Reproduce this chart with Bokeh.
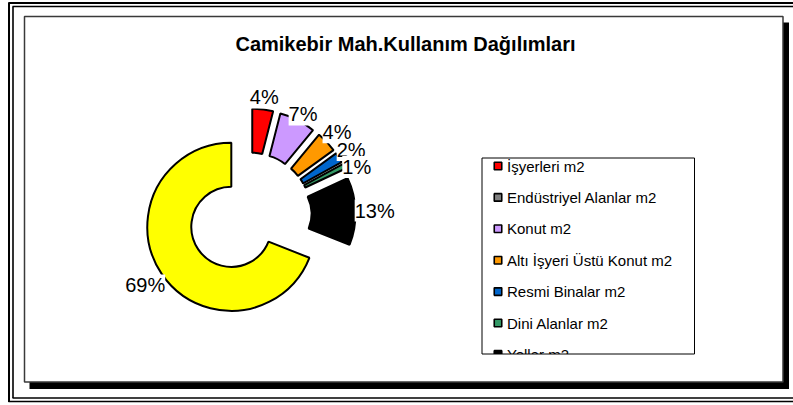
import math
from bokeh.plotting import figure
from bokeh.models import Range1d
from bokeh.embed import file_html
from bokeh.resources import INLINE
from bokeh.core.properties import value

# ---------------- data ----------------
title = "Camikebir Mah.Kullanım Dağılımları"
categories = ["İşyerleri m2", "Endüstriyel Alanlar m2", "Konut m2",
              "Altı İşyeri Üstü Konut m2", "Resmi Binalar m2",
              "Dini Alanlar m2", "Yollar m2", "Diğer m2"]
percents = [4, 0, 7, 4, 2, 1, 13, 69]
colors = ["#FF0000", "#808080", "#CC99FF", "#FF9900", "#0066CC",
          "#339966", "#000000", "#FFFF00"]

# ---------------- layout ----------------
W, H = 793, 405
FONT = value("Liberation Sans")


def Y(y):
    return H - y


p = figure(width=W, height=H, x_range=Range1d(0, W), y_range=Range1d(0, H),
           output_backend="svg", toolbar_location=None, min_border=0,
           x_axis_location=None, y_axis_location=None)
p.xgrid.visible = False
p.ygrid.visible = False
p.outline_line_color = None
p.background_fill_color = "white"
p.border_fill_color = "white"

# outer double frame
p.multi_line(xs=[[8.5, 8.5], [8, W]], ys=[[Y(2), Y(401.5)], [Y(2.5), Y(2.5)]],
             line_color="black", line_width=2)
p.multi_line(xs=[[12.5, 12.5], [12, W], [12, W], [8, W]],
             ys=[[Y(6), Y(397.5)], [Y(6), Y(6)], [Y(397.5), Y(397.5)], [Y(401), Y(401)]],
             line_color="black", line_width=1.6)

# chart area with shadow
p.quad(left=[782, 29], right=[788.5, 788.5], top=[Y(22), Y(381)],
       bottom=[Y(388.5), Y(388.5)], fill_color="black", line_color=None)
p.quad(left=24, right=782.5, top=Y(16), bottom=Y(381.5), fill_color="white",
       line_color="#3a3a3a", line_width=1.5)

# title
p.text(x=[405], y=[Y(43)], text=[title], text_font=FONT, text_font_size="20px",
       text_font_style="bold", text_align="center", text_baseline="middle",
       text_color="black")

# ---------------- pie ----------------
CX, CY = 249, 214          # screen coords of pie centre
R_OUT, R_IN = 84, 40
EXPLODE = 22
LABEL_D = 96               # label distance from (exploded) slice centre
LBL_PX = 20
CHAR_W = 0.7 * LBL_PX      # rough label half-size estimates
HALF_H = 8.5

total = float(sum(percents))
acc = 0.0
wx, wy, ws, we, wc = [], [], [], [], []
labels = []
for cat, v, c in zip(categories, percents, colors):
    a0 = acc / total * 2 * math.pi
    acc += v
    a1 = acc / total * 2 * math.pi
    if v <= 0:
        continue
    mid = (a0 + a1) / 2
    ux, uy = math.sin(mid), -math.cos(mid)       # screen direction
    ex, ey = CX + EXPLODE * ux, CY + EXPLODE * uy  # exploded centre (screen)
    wx.append(ex)
    wy.append(Y(ey))
    ws.append(math.pi / 2 - a1)
    we.append(math.pi / 2 - a0)
    wc.append(c)
    txt = f"{round(v / total * 100)}%"
    support = abs(ux) * CHAR_W * len(txt) / 2 + abs(uy) * HALF_H
    d = max(LABEL_D, R_OUT - 2 + support)
    labels.append([ex + d * ux, ey + d * uy, txt])

p.annular_wedge(x=wx, y=wy, inner_radius=R_IN, outer_radius=R_OUT,
                start_angle=ws, end_angle=we, fill_color=wc,
                line_color="black", line_width=2)

# simple collision avoidance for labels on the right side
right = sorted([l for l in labels if l[0] > CX], key=lambda l: l[1])
for i in range(1, len(right)):
    if right[i][1] < right[i - 1][1] + 17:
        right[i][1] = right[i - 1][1] + 17

p.text(x=[l[0] for l in labels], y=[Y(l[1]) for l in labels],
       text=[l[2] for l in labels], text_font=FONT, text_font_size=f"{LBL_PX}px",
       text_align="center", text_baseline="middle", text_color="black",
       background_fill_color="white")

# ---------------- legend ----------------
LG_L, LG_R, LG_T, LG_B = 481.5, 694, 157.5, 353.5
ROW0, ROW_STEP = 165.5, 31.4
rows = [(i, cat, c) for i, (cat, c) in enumerate(zip(categories, colors))
        if ROW0 + i * ROW_STEP - 8 < LG_B]
p.rect(x=[497.5] * len(rows), y=[Y(ROW0 + i * ROW_STEP) for i, _, _ in rows],
       width=7.5, height=7.5, fill_color=[c for _, _, c in rows],
       line_color="black", line_width=1.6)
p.text(x=[506.5] * len(rows), y=[Y(ROW0 + i * ROW_STEP) for i, _, _ in rows],
       text=[cat for _, cat, _ in rows], text_font=FONT, text_font_size="15px",
       text_align="left", text_baseline="middle", text_color="black")
# clip legend content at the legend box bottom
p.quad(left=LG_L, right=LG_R, top=Y(LG_B), bottom=Y(375), fill_color="white",
       line_color=None)
p.quad(left=LG_L, right=LG_R, top=Y(LG_T), bottom=Y(LG_B), fill_color=None,
       line_color="black", line_width=1)

open("out.html", "w").write(file_html(p, INLINE))
